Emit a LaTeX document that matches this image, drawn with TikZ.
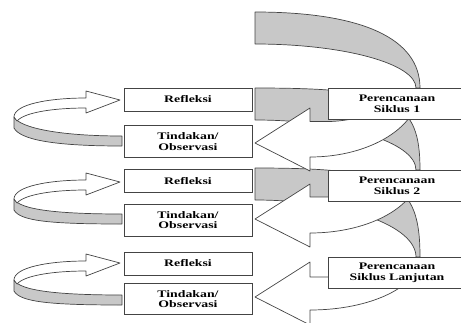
\documentclass[tikz,border=0pt]{standalone}
\usepackage{fontspec}
\newfontfamily\kotakfont{Liberation Serif}[FakeStretch=1.38]
\definecolor{garis}{HTML}{444444}
\definecolor{abu}{HTML}{C8C8C8}
% 大箭头：#1 顶部, #2 转折, #3 下缘, #4 箭尖, #5 上缘, #6 弯曲度
\newcommand{\siklusarrow}[6]{%
  \draw[depan] (416,#2) .. controls (416,#2+15) and (360,#5) .. (328,#5)
    -- (310,#5) -- (310,#4-35) -- (255,#4) -- (310,#4+28) -- (310,#3)
    .. controls (371,#3) and (420,{#2+0.552*(#3-#2)}) .. (420,#2) -- cycle;
  \draw[belakang] (255,#1) .. controls ({255+#6*165},#1) and (420,{#2-#6*(#2-#1)}) .. (420,#2)
    -- (416,#2) .. controls (416,{#2-0.552*(#2-#1-32)}) and ({255+0.552*161},{#1+32}) .. (255,{#1+32})
    -- cycle;}
% 小箭头：#1 箭尖, #2 尾部
\newcommand{\balikarrow}[2]{%
  \draw[belakang] (14,#1+17) .. controls (20,#1+28) and (60,#2-5) .. (122,#2-5)
    -- (122,#2+5) .. controls (50,#2+5) and (20,#1+39) .. (14,#1+28) -- cycle;
  \draw[depan] (14,#1+17) .. controls (14,#1+4) and (50,#1-2) .. (86,#1-2)
    -- (86,#1-9) -- (120,#1) -- (86,#1+13) -- (86,#1+8)
    .. controls (55,#1+8) and (25,#1+12) .. (17,#1+21) -- cycle;}

\begin{document}
\begin{tikzpicture}[x=1pt,y=-1pt,
    depan/.style={draw=garis,fill=white,line width=0.7pt,line join=round},
    belakang/.style={draw=garis,fill=abu,line width=0.7pt,line join=round},
    lbox/.style={draw=garis,fill=white,line width=0.7pt,inner sep=0pt,
      minimum width=128pt,align=center,
      font=\kotakfont\bfseries\fontsize{10}{10.7}\selectfont},
    pbox/.style={lbox,minimum width=138pt,minimum height=31pt}]
  % 画布
  \useasboundingbox (0,0) rectangle (461,322);
  \clip (0,0) rectangle (461,322);
  % 大箭头（自下而上）
  \siklusarrow{168}{257}{310}{297}{277}{0.85}
  \siklusarrow{88}{170}{233}{219}{197}{0.85}
  \siklusarrow{12}{88}{157}{143}{121.5}{0.65}
  % 小箭头
  \balikarrow{100}{141}
  \balikarrow{182}{219}
  \balikarrow{263}{300}
  % 左列方框
  \node[lbox,minimum height=23pt] (ref1) at (188,99.5) {Refleksi};
  \node[lbox,minimum height=32pt] (tin1) at (188,141.5) {Tindakan/\\Observasi};
  \node[lbox,minimum height=23pt] (ref2) at (188,181) {Refleksi};
  \node[lbox,minimum height=32pt] (tin2) at (188,220) {Tindakan/\\Observasi};
  \node[lbox,minimum height=23pt] (ref3) at (188,263.5) {Refleksi};
  \node[lbox,minimum height=31pt] (tin3) at (188,299) {Tindakan/\\Observasi};
  % 右列方框
  \node[pbox] (per1) at (397,103.5) {Perencanaan\\Siklus 1};
  \node[pbox] (per2) at (397,185.5) {Perencanaan\\Siklus 2};
  \node[pbox] (per3) at (397,272.5) {Perencanaan\\Siklus Lanjutan};
\end{tikzpicture}
\end{document}
